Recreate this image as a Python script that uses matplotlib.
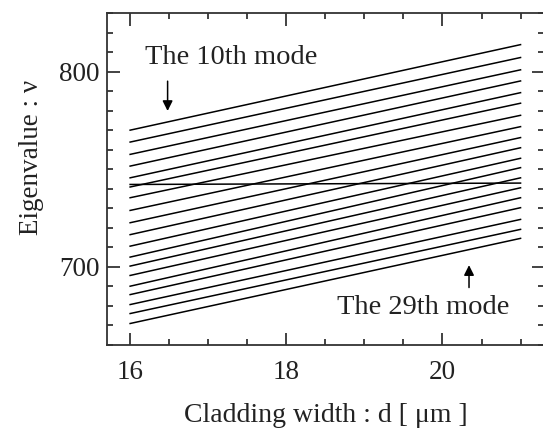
import matplotlib
matplotlib.use('Agg')
import matplotlib.pyplot as plt
from matplotlib.ticker import MultipleLocator

plt.rcParams['font.family'] = ['Liberation Serif', 'DejaVu Serif']

# cladding width end points [um]
width = [16, 21]

# eigenvalues of the sloped modes at d = 16 and d = 21 (top to bottom)
eig_16 = [770.0, 763.9, 757.6, 751.6, 745.6, 740.9, 735.4, 728.9, 722.6, 716.5,
          710.6, 705.0, 700.4, 695.6, 690.1, 685.8, 680.7, 676.1, 671.0]
eig_21 = [813.8, 807.2, 800.9, 795.2, 789.2, 783.8, 777.6, 771.8, 766.2, 761.0,
          755.6, 750.8, 745.6, 740.5, 735.4, 730.3, 724.3, 719.2, 714.6]

# nearly flat mode crossing the others
flat_mode = [742.2, 742.9]

fig = plt.figure(figsize=(5.43, 4.30), dpi=100)
ax = fig.add_axes([0.1965, 0.1977, 0.8053, 0.7721])

for a, b in zip(eig_16, eig_21):
    ax.plot(width, [a, b], color='black', linewidth=1.1)
ax.plot(width, flat_mode, color='black', linewidth=1.1)

ax.set_xlim(15.70, 21.30)
ax.set_ylim(660, 830)

ax.xaxis.set_major_locator(MultipleLocator(2))
ax.xaxis.set_minor_locator(MultipleLocator(0.5))
ax.yaxis.set_major_locator(MultipleLocator(100))
ax.yaxis.set_minor_locator(MultipleLocator(10))

ax.tick_params(which='both', direction='in', top=True, right=True,
               width=1.2, colors='#222222', labelcolor='#222222', labelsize=19.5)
ax.tick_params(which='major', length=9)
ax.tick_params(which='minor', length=4.5)
ax.tick_params(axis='x', which='major', pad=11)
ax.tick_params(axis='y', which='major', pad=5)

for sp in ax.spines.values():
    sp.set_linewidth(1.3)
    sp.set_color('#333333')

ax.set_xlabel('Cladding width : d [ \u03bcm ]', fontsize=20,
              color='#222222', labelpad=13)
ax.set_ylabel('Eigenvalue : \u03bd', fontsize=19.5, color='#222222')
ax.yaxis.set_label_coords(-0.143, 0.566)

# mode annotations
ax.text(17.30, 807, 'The 10th mode', fontsize=20.5, ha='center', va='center',
        color='#222222')
ax.annotate('', xy=(16.48, 778.4), xytext=(16.48, 796.5),
            arrowprops=dict(arrowstyle='-|>', color='black', lw=1.1,
                            mutation_scale=15))

ax.text(19.75, 679, 'The 29th mode', fontsize=20.5, ha='center', va='center',
        color='#222222')
ax.annotate('', xy=(20.34, 702.3), xytext=(20.34, 688.0),
            arrowprops=dict(arrowstyle='-|>', color='black', lw=1.1,
                            mutation_scale=15))

fig.savefig('out.png', dpi=100)
